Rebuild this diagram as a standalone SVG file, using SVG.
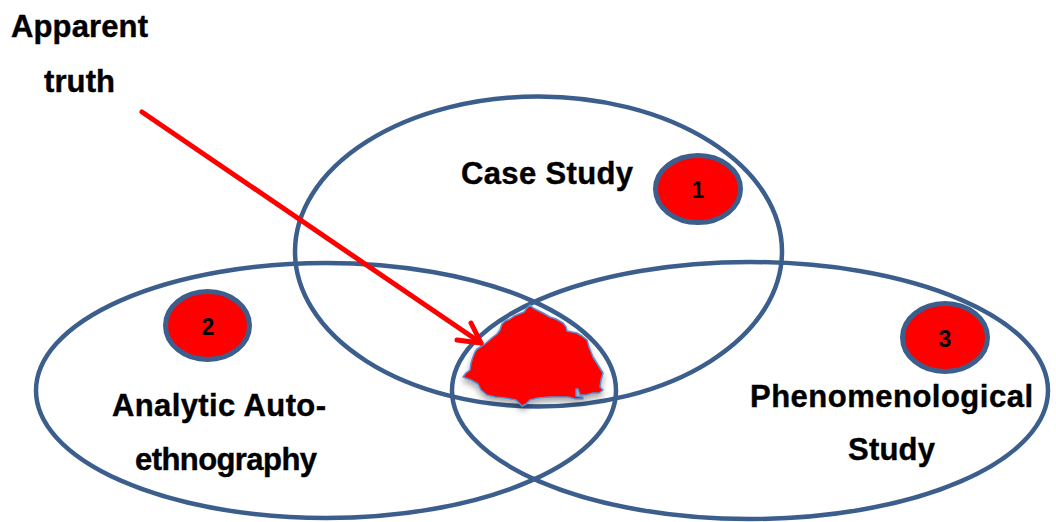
<svg xmlns="http://www.w3.org/2000/svg" width="1056" height="522" viewBox="0 0 1056 522">
<style>
.big{fill:none;stroke:#3B5E8C;stroke-width:4.5}
.num{fill:#FF0000;stroke:#3B5E8C;stroke-width:5}
.lbl{font-family:"Liberation Sans",Arial,sans-serif;font-weight:bold;font-size:31px;fill:#000;stroke:#000;stroke-width:0.4}
.n{font-family:"Liberation Sans",Arial,sans-serif;font-weight:bold;font-size:23px;fill:#000;text-anchor:middle}
.arrow{fill:none;stroke:#FF0000;stroke-width:5;stroke-linecap:round;stroke-linejoin:round}
</style>
<defs>
<filter id="sh" x="-20%" y="-20%" width="140%" height="150%">
<feGaussianBlur in="SourceAlpha" stdDeviation="3"/>
<feOffset dx="0" dy="4" result="b"/>
<feComponentTransfer><feFuncA type="linear" slope="0.35"/></feComponentTransfer>
<feMerge><feMergeNode/><feMergeNode in="SourceGraphic"/></feMerge>
</filter>
</defs>
<rect width="1056" height="522" fill="#fff"/>
<g id="case-study">
<ellipse class="big" cx="538.5" cy="251.5" rx="243.5" ry="155"/>
<text class="lbl" x="461" y="184" textLength="172">Case Study</text>
</g>
<g id="analytic">
<ellipse class="big" cx="326" cy="390.5" rx="290" ry="127.5"/>
<text class="lbl" x="112" y="416" textLength="214">Analytic Auto-</text>
<text class="lbl" x="135" y="470" textLength="182">ethnography</text>
</g>
<g id="phenomenological">
<ellipse class="big" cx="750" cy="390.5" rx="298" ry="128.5"/>
<text class="lbl" x="750" y="407" textLength="283">Phenomenological</text>
<text class="lbl" x="848" y="460" textLength="87">Study</text>
</g>
<g id="badge1">
<ellipse class="num" cx="698" cy="189" rx="42.5" ry="33.5"/>
<text class="n" x="698" y="198">1</text>
</g>
<g id="badge2">
<ellipse class="num" cx="207.5" cy="325.5" rx="42" ry="34"/>
<text class="n" x="208" y="335">2</text>
</g>
<g id="badge3">
<ellipse class="num" cx="945" cy="337.5" rx="42.5" ry="34"/>
<text class="n" x="945" y="347">3</text>
</g>
<g id="apparent-truth">
<path filter="url(#sh)" fill="#FF0000" stroke="#5B8ED0" stroke-width="1.5" stroke-linejoin="round" d="M530,305 L533,308 L537,310 L543,313 L550,317 L556,319 L563,323 L566,327 L567,331 L572,332 L577,333 L582,336 L587,340 L589,347 L593,357 L598,365 L603,373 L601,380 L600,387 L603,390 L599,393 L593,393 L586,395 L580,395 L578,389 L576,389 L576,396 L583,397 L583,399 L575,399 L568,397 L560,397 L550,397 L538,398 L530,400 L526,404 L522,406 L518,402 L516,400 L505,398 L495,397 L487,395 L481,390 L478,384 L471,380 L463,377 L466,373 L470,370 L471,363 L473,357 L475,352 L477,349 L482,346 L486,343 L493,337 L497,334 L500,330 L502,324 L505,321 L510,319 L514,316 L519,314 L524,312 L527,308 Z"/>
<text class="lbl" x="11" y="37" textLength="137">Apparent</text>
<text class="lbl" x="44" y="92" textLength="71">truth</text>
</g>
<g id="connectors">
<path class="arrow" d="M142,112 L481,343"/>
<path class="arrow" d="M457,340 L481,343 L471,323"/>
</g>
</svg>
